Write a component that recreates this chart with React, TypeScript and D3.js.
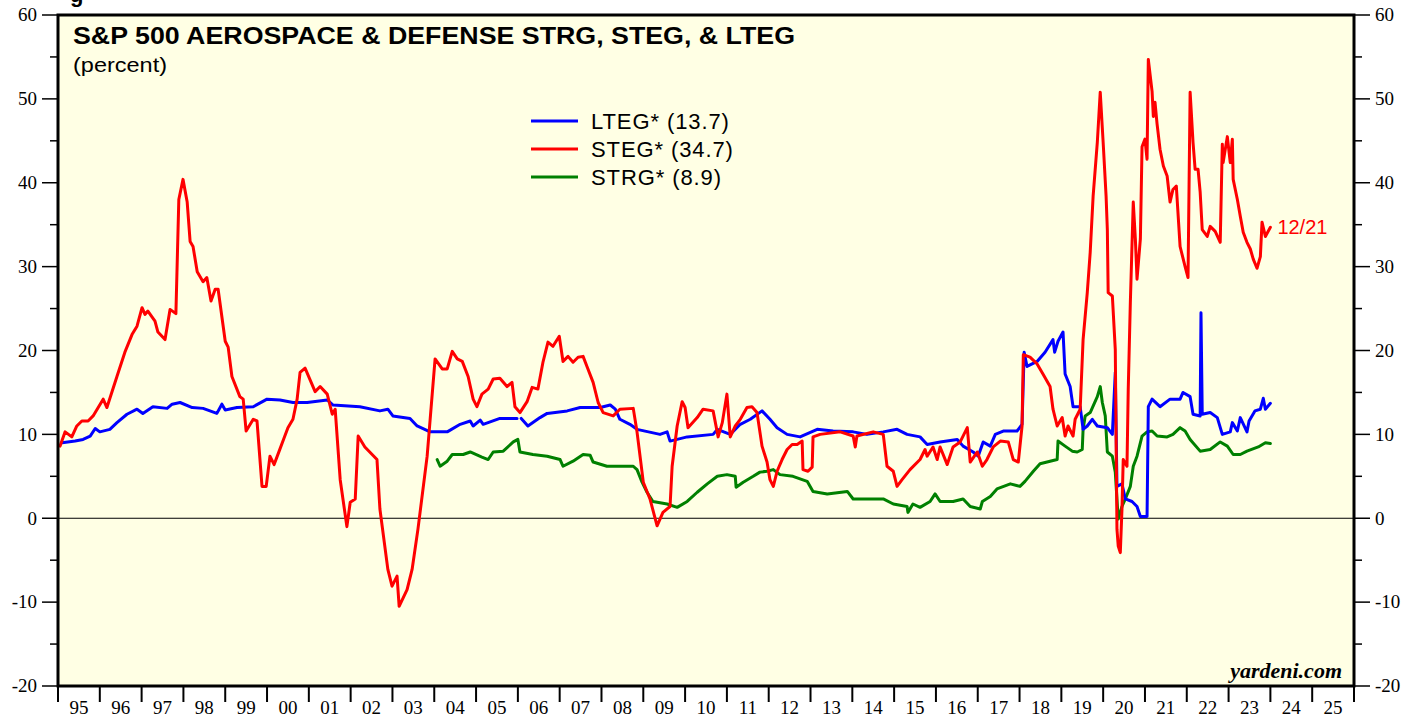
import React from 'react';
import * as d3 from 'd3';

const W = 1419;
const H = 717;
const M = { left: 58, right: 1354, top: 15, bottom: 686 };

const yearTicks = d3.range(1995, 2027);
const yearLabels = d3.range(1995, 2026);
const yMajor = d3.range(-20, 61, 10);
const yMinor = d3.range(-15, 60, 10);

// [decimal year, percent]
const LTEG: [number, number][] = [
  [1995.1, 9.0], [1995.41, 9.2], [1995.6, 9.4], [1995.77, 9.8], [1995.89, 10.7], [1996.0, 10.3],
  [1996.24, 10.6], [1996.41, 11.4], [1996.65, 12.4], [1996.89, 13.0], [1997.03, 12.5], [1997.27, 13.3],
  [1997.61, 13.1], [1997.73, 13.6], [1997.92, 13.8], [1998.21, 13.2], [1998.47, 13.1], [1998.8, 12.5],
  [1998.92, 13.6], [1999.0, 12.9], [1999.28, 13.2], [1999.67, 13.3], [2000.0, 14.2], [2000.31, 14.1],
  [2000.62, 13.8], [2000.96, 13.8], [2001.44, 14.1], [2001.58, 13.5], [2002.22, 13.3], [2002.7, 12.8],
  [2002.89, 13.0], [2003.01, 12.2], [2003.42, 11.9], [2003.59, 11.0], [2003.9, 10.3], [2004.31, 10.3],
  [2004.62, 11.2], [2004.86, 11.6], [2004.93, 11.0], [2005.1, 11.7], [2005.17, 11.2], [2005.57, 11.9],
  [2005.98, 11.9], [2006.03, NaN], [2006.08, 11.9], [2006.24, 11.0], [2006.53, 12.0], [2006.7, 12.5],
  [2007.18, 12.8], [2007.49, 13.2], [2007.97, 13.2], [2008.21, 13.5], [2008.33, 13.0], [2008.44, 11.8],
  [2008.68, 11.2], [2008.85, 10.6], [2009.4, 10.0], [2009.57, 10.3], [2009.64, 9.2], [2010.05, 9.7],
  [2010.67, 10.0], [2010.77, 10.6], [2011.08, 10.0], [2011.32, 11.2], [2011.56, 11.8], [2011.84, 12.8],
  [2012.03, 11.8], [2012.2, 10.8], [2012.44, 10.0], [2012.75, 9.7], [2013.16, 10.6], [2013.54, 10.4],
  [2014.02, 10.3], [2014.35, 10.0], [2014.74, 10.3], [2015.07, 10.6], [2015.31, 10.0], [2015.62, 9.7],
  [2015.79, 8.8], [2016.1, 9.1], [2016.51, 9.4], [2016.65, 8.6], [2016.89, 7.9], [2017.01, 7.4],
  [2017.13, 9.1], [2017.3, 8.6], [2017.42, 10.0], [2017.61, 10.4], [2017.94, 10.4], [2018.06, 11.2],
  [2018.11, 19.8], [2018.18, 18.1], [2018.42, 18.7], [2018.61, 19.8], [2018.8, 21.3], [2018.84, 19.8],
  [2018.92, 21.1], [2019.04, 22.2], [2019.09, 17.2], [2019.21, 15.7], [2019.28, 13.3], [2019.45, 13.3],
  [2019.52, 10.6], [2019.62, 11.0], [2019.74, 11.8], [2019.86, 11.0], [2020.1, 10.8], [2020.22, 10.0],
  [2020.29, 17.4], [2020.33, 3.8], [2020.45, 4.1], [2020.53, 2.3], [2020.69, 2.0], [2020.81, 1.4],
  [2020.89, 0.2], [2021.05, 0.2], [2021.08, 13.3], [2021.17, 14.2], [2021.36, 13.3], [2021.6, 14.2],
  [2021.84, 14.2], [2021.91, 15.0], [2022.08, 14.5], [2022.15, 12.4], [2022.32, 12.2], [2022.34, 24.5],
  [2022.37, 12.4], [2022.56, 12.6], [2022.73, 12.0], [2022.85, 10.0], [2023.04, 10.3], [2023.09, 11.4],
  [2023.21, 10.4], [2023.28, 12.0], [2023.44, 10.3], [2023.49, 11.6], [2023.63, 12.8], [2023.76, 13.0],
  [2023.83, 14.3], [2023.88, 13.0], [2024.0, 13.7],
];

const STEG: [number, number][] = [
  [1995.05, 8.6], [1995.17, 10.3], [1995.33, 9.7], [1995.45, 11.0], [1995.57, 11.6], [1995.72, 11.6],
  [1995.84, 12.2], [1996.08, 14.2], [1996.17, 13.2], [1996.41, 16.9], [1996.6, 19.8], [1996.77, 21.9],
  [1996.89, 22.9], [1997.01, 25.1], [1997.08, 24.3], [1997.15, 24.7], [1997.32, 23.5], [1997.39, 22.2],
  [1997.56, 21.3], [1997.68, 24.9], [1997.82, 24.4], [1997.89, 38.0], [1997.99, 40.4], [1998.09, 37.7],
  [1998.16, 33.0], [1998.23, 32.4], [1998.33, 29.4], [1998.47, 28.2], [1998.56, 28.7], [1998.66, 25.9],
  [1998.76, 27.3], [1998.83, 27.3], [1999.0, 21.1], [1999.07, 20.4], [1999.16, 16.9], [1999.35, 14.5],
  [1999.43, 14.2], [1999.5, 10.4], [1999.67, 11.8], [1999.76, 11.6], [1999.88, 3.8], [1999.98, 3.8],
  [2000.07, 7.4], [2000.17, 6.4], [2000.29, 8.0], [2000.41, 9.6], [2000.5, 10.8], [2000.62, 11.8],
  [2000.72, 14.2], [2000.79, 17.4], [2000.91, 17.9], [2001.15, 15.1], [2001.27, 15.7], [2001.44, 14.8],
  [2001.56, 12.4], [2001.63, 13.0], [2001.75, 4.6], [2001.91, -1.0], [2001.99, 1.9], [2002.11, 2.3],
  [2002.18, 9.8], [2002.34, 8.5], [2002.63, 7.0], [2002.7, 1.1], [2002.89, -6.1], [2002.99, -8.1],
  [2003.11, -6.9], [2003.16, -10.5], [2003.35, -8.5], [2003.47, -6.1], [2003.61, -1.3], [2003.83, 7.4],
  [2004.02, 19.0], [2004.19, 17.8], [2004.31, 17.8], [2004.43, 19.9], [2004.55, 19.0], [2004.67, 18.7],
  [2004.81, 16.9], [2004.93, 14.2], [2005.02, 13.3], [2005.14, 14.8], [2005.29, 15.4], [2005.41, 16.6],
  [2005.57, 16.7], [2005.74, 15.7], [2005.86, 16.2], [2005.93, 13.3], [2006.05, 12.6], [2006.22, 13.9],
  [2006.34, 15.6], [2006.48, 15.4], [2006.6, 18.6], [2006.72, 21.0], [2006.84, 20.5], [2006.99, 21.7],
  [2007.08, 18.7], [2007.2, 19.3], [2007.32, 18.6], [2007.44, 19.2], [2007.56, 19.3], [2007.66, 18.0],
  [2007.8, 16.2], [2007.92, 13.8], [2008.04, 12.6], [2008.28, 12.2], [2008.44, 13.0], [2008.76, 13.1],
  [2008.85, 10.3], [2009.0, 4.3], [2009.16, 2.3], [2009.33, -0.9], [2009.47, 0.7], [2009.64, 1.4],
  [2009.69, 6.2], [2009.81, 11.0], [2009.93, 13.9], [2010.0, 13.2], [2010.07, 10.8], [2010.29, 12.0],
  [2010.43, 13.0], [2010.67, 12.8], [2010.79, 9.7], [2010.89, 11.4], [2011.0, 14.8], [2011.08, 9.7],
  [2011.2, 11.0], [2011.32, 11.8], [2011.48, 13.2], [2011.6, 13.3], [2011.72, 12.6], [2011.84, 8.6],
  [2011.96, 6.7], [2012.03, 4.6], [2012.11, 3.8], [2012.2, 5.6], [2012.32, 7.0], [2012.44, 8.2],
  [2012.56, 8.8], [2012.68, 8.8], [2012.8, 9.2], [2012.82, 5.8], [2012.94, 5.6], [2013.04, 6.1],
  [2013.06, 9.7], [2013.23, 10.0], [2013.71, 10.3], [2014.02, 9.8], [2014.07, 8.5], [2014.11, 9.8],
  [2014.5, 10.3], [2014.74, 10.0], [2014.83, 6.2], [2014.98, 5.6], [2015.07, 3.8], [2015.19, 4.6],
  [2015.38, 5.8], [2015.62, 7.0], [2015.74, 8.2], [2015.79, 7.4], [2015.93, 8.5], [2016.03, 7.0],
  [2016.1, 8.5], [2016.27, 6.4], [2016.41, 8.5], [2016.58, 9.1], [2016.75, 10.8], [2016.82, 6.7],
  [2016.99, 7.9], [2017.11, 6.2], [2017.22, 7.0], [2017.37, 8.5], [2017.54, 9.2], [2017.73, 9.1],
  [2017.85, 7.0], [2017.97, 6.7], [2018.06, 11.0], [2018.09, 19.5], [2018.25, 19.2], [2018.42, 18.4],
  [2018.56, 17.2], [2018.73, 15.7], [2018.8, 13.0], [2018.9, 11.0], [2019.02, 12.0], [2019.09, 9.8],
  [2019.16, 11.0], [2019.28, 9.8], [2019.33, 11.8], [2019.45, 13.0], [2019.52, 21.3], [2019.62, 26.9],
  [2019.69, 31.7], [2019.76, 38.4], [2019.86, 44.8], [2019.93, 50.8], [2020.0, 44.8], [2020.07, 38.4],
  [2020.1, 34.4], [2020.12, 26.9], [2020.22, 26.5], [2020.29, 20.1], [2020.33, -1.3], [2020.36, -3.3],
  [2020.41, -4.1], [2020.45, 1.1], [2020.48, 7.0], [2020.57, 6.2], [2020.6, 15.4], [2020.65, 25.7],
  [2020.72, 37.7], [2020.77, 33.3], [2020.81, 28.5], [2020.89, 33.3], [2020.93, 44.3], [2021.0, 45.2],
  [2021.05, 42.8], [2021.08, 54.7], [2021.17, 50.9], [2021.2, 47.9], [2021.24, 49.6], [2021.29, 47.0],
  [2021.36, 44.0], [2021.44, 42.0], [2021.53, 40.8], [2021.6, 37.7], [2021.67, 39.2], [2021.75, 39.6],
  [2021.84, 32.4], [2021.96, 30.0], [2022.03, 28.7], [2022.08, 50.8], [2022.15, 44.8], [2022.2, 41.6],
  [2022.27, 41.6], [2022.32, 38.9], [2022.37, 34.4], [2022.49, 33.6], [2022.56, 34.8], [2022.68, 34.2],
  [2022.8, 32.9], [2022.85, 44.6], [2022.87, 42.4], [2022.97, 45.5], [2023.04, 42.4], [2023.09, 45.2],
  [2023.11, 40.4], [2023.21, 38.0], [2023.28, 36.0], [2023.35, 34.1], [2023.44, 32.9], [2023.52, 32.1],
  [2023.59, 30.9], [2023.68, 29.8], [2023.76, 31.2], [2023.8, 35.3], [2023.88, 33.6], [2024.0, 34.7],
];

const STRG: [number, number][] = [
  [2004.07, 7.0], [2004.14, 6.2], [2004.31, 6.8], [2004.43, 7.6], [2004.69, 7.6], [2004.86, 7.9],
  [2005.14, 7.3], [2005.29, 7.0], [2005.41, 7.9], [2005.65, 8.0], [2005.89, 9.1], [2006.0, 9.4],
  [2006.05, 7.9], [2006.36, 7.6], [2006.7, 7.4], [2007.01, 7.0], [2007.08, 6.2], [2007.32, 6.8],
  [2007.56, 7.6], [2007.73, 7.5], [2007.8, 6.7], [2008.13, 6.2], [2008.76, 6.2], [2008.85, 5.8],
  [2008.97, 4.3], [2009.09, 3.1], [2009.23, 2.0], [2009.57, 1.7], [2009.81, 1.3], [2010.05, 2.0],
  [2010.29, 3.1], [2010.53, 4.1], [2010.77, 5.0], [2011.0, 5.2], [2011.2, 5.0], [2011.22, 3.7],
  [2011.39, 4.3], [2011.63, 5.0], [2011.79, 5.5], [2011.96, 5.6], [2012.11, 5.8], [2012.27, 5.2],
  [2012.58, 5.0], [2012.92, 4.4], [2013.06, 3.2], [2013.4, 2.9], [2013.88, 3.2], [2014.02, 2.3],
  [2014.74, 2.3], [2014.98, 1.7], [2015.31, 1.4], [2015.33, 0.7], [2015.45, 1.7], [2015.62, 1.3],
  [2015.86, 2.0], [2015.98, 2.9], [2016.1, 2.0], [2016.41, 2.0], [2016.65, 2.3], [2016.82, 1.4],
  [2017.06, 1.1], [2017.11, 2.0], [2017.3, 2.6], [2017.46, 3.5], [2017.78, 4.1], [2018.01, 3.8],
  [2018.13, 4.4], [2018.33, 5.6], [2018.49, 6.5], [2018.73, 6.8], [2018.9, 7.0], [2018.92, 9.2],
  [2019.09, 8.6], [2019.26, 8.0], [2019.38, 7.9], [2019.5, 8.2], [2019.52, 10.6], [2019.57, 12.2],
  [2019.69, 12.6], [2019.86, 14.5], [2019.93, 15.7], [2019.98, 13.8], [2020.05, 12.2], [2020.1, 7.9],
  [2020.22, 7.4], [2020.29, 5.5], [2020.36, -0.1], [2020.45, 1.4], [2020.53, 2.3], [2020.65, 3.8],
  [2020.72, 6.2], [2020.81, 7.4], [2020.93, 9.8], [2021.05, 10.3], [2021.17, 10.4], [2021.29, 9.8],
  [2021.53, 9.7], [2021.67, 10.0], [2021.84, 10.8], [2021.96, 10.4], [2022.08, 9.4], [2022.32, 8.0],
  [2022.56, 8.2], [2022.8, 9.1], [2022.97, 8.6], [2023.11, 7.6], [2023.28, 7.6], [2023.44, 8.0],
  [2023.71, 8.5], [2023.88, 9.0], [2024.0, 8.9],
];

const legendItems = [
  { label: 'LTEG* (13.7)', color: '#0000ff' },
  { label: 'STEG* (34.7)', color: '#ff0000' },
  { label: 'STRG* (8.9)', color: '#008000' },
];

const SANS = '"Liberation Sans", Arial, Helvetica, sans-serif';
const SERIF = '"Liberation Serif", "Times New Roman", serif';

export default function App() {
  const x = d3.scaleLinear().domain([1995, 2026]).range([M.left, M.right]);
  const y = d3.scaleLinear().domain([-20, 60]).range([M.bottom, M.top]);

  const line = d3
    .line<[number, number]>()
    .defined((d) => !isNaN(d[1]))
    .x((d) => x(d[0]))
    .y((d) => y(d[1]));

  const series = [
    { data: STRG, color: '#008000' },
    { data: LTEG, color: '#0000ff' },
    { data: STEG, color: '#ff0000' },
  ];

  const last = STEG[STEG.length - 1];

  return (
    <svg
      width={W}
      height={H}
      style={{ position: 'absolute', left: 0, top: 0, background: '#ffffff' }}
    >
      {/* clipped glyph at the very top, as in the source image */}
      <text x={70} y={2} fontFamily={SANS} fontWeight="bold" fontSize={22} fill="#000">g</text>

      <rect
        x={M.left}
        y={M.top}
        width={M.right - M.left}
        height={M.bottom - M.top}
        fill="#ffffe4"
      />

      <line x1={M.left} x2={M.right} y1={y(0)} y2={y(0)} stroke="#000" strokeWidth={1} />

      <g fill="none" strokeWidth={3} strokeLinejoin="round" strokeLinecap="round">
        {series.map((s, i) => (
          <path key={i} d={line(s.data) || ''} stroke={s.color} />
        ))}
      </g>

      {/* frame */}
      <rect
        x={M.left}
        y={M.top}
        width={M.right - M.left}
        height={M.bottom - M.top}
        fill="none"
        stroke="#000"
        strokeWidth={3}
      />

      {/* left / right axes */}
      {yMajor.map((v) => (
        <g key={'maj' + v}>
          <line x1={M.left - 16} x2={M.left} y1={y(v)} y2={y(v)} stroke="#000" strokeWidth={1.5} />
          <line x1={M.right} x2={M.right + 16} y1={y(v)} y2={y(v)} stroke="#000" strokeWidth={1.5} />
          <text x={37} y={y(v)} dy="0.33em" textAnchor="end" fontFamily={SERIF} fontSize={19}>
            {v}
          </text>
          <text x={M.right + 21} y={y(v)} dy="0.33em" textAnchor="start" fontFamily={SERIF} fontSize={19}>
            {v}
          </text>
        </g>
      ))}
      {yMinor.map((v) => (
        <g key={'min' + v}>
          <line x1={M.left - 8} x2={M.left} y1={y(v)} y2={y(v)} stroke="#000" strokeWidth={1.5} />
          <line x1={M.right} x2={M.right + 8} y1={y(v)} y2={y(v)} stroke="#000" strokeWidth={1.5} />
        </g>
      ))}

      {/* bottom axis */}
      {yearTicks.map((yr) => (
        <line key={'t' + yr} x1={x(yr)} x2={x(yr)} y1={M.bottom} y2={M.bottom + 16} stroke="#000" strokeWidth={2} />
      ))}
      {yearLabels.map((yr) => (
        <text key={'l' + yr} x={x(yr + 0.5)} y={714} textAnchor="middle" fontFamily={SERIF} fontSize={19}>
          {String(yr % 100).padStart(2, '0')}
        </text>
      ))}

      {/* titles */}
      <text
        x={73}
        y={44}
        fontFamily={SANS}
        fontWeight="bold"
        fontSize={24}
        textLength={722}
        lengthAdjust="spacingAndGlyphs"
      >
        S&amp;P 500 AEROSPACE &amp; DEFENSE STRG, STEG, &amp; LTEG
      </text>
      <text x={73} y={72} fontFamily={SANS} fontSize={21} textLength={94} lengthAdjust="spacingAndGlyphs">
        (percent)
      </text>

      {/* legend */}
      {legendItems.map((d, i) => (
        <g key={d.label} transform={`translate(531, ${121 + i * 28})`}>
          <line x1={0} x2={47} y1={0} y2={0} stroke={d.color} strokeWidth={3} />
          <text x={60} y={0} dy="0.36em" fontFamily={SANS} fontSize={22} letterSpacing={0.9}>
            {d.label}
          </text>
        </g>
      ))}

      <text x={x(last[0]) + 7} y={y(last[1])} dy="0.36em" fontFamily={SANS} fontSize={20} fill="#ff0000">
        12/21
      </text>

      <text
        x={1342}
        y={678}
        textAnchor="end"
        fontFamily={SERIF}
        fontStyle="italic"
        fontWeight="bold"
        fontSize={22}
      >
        yardeni.com
      </text>
    </svg>
  );
}
